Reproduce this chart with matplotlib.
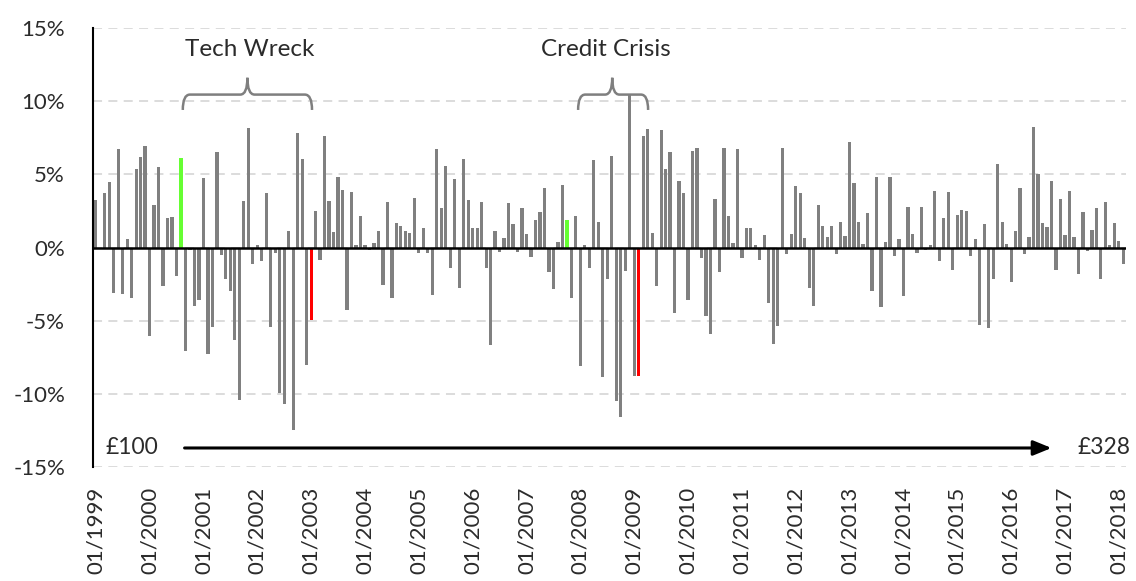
import matplotlib
matplotlib.use("Agg")
import matplotlib.pyplot as plt
import numpy as np
import pandas as pd
from matplotlib.path import Path
from matplotlib.patches import PathPatch

# monthly returns in %, starting 01/1999
monthly_returns = [
    3.24, -0.1, 3.7, 4.5, -3.1, 6.75, -3.15, 0.57, -3.45, 5.37, 6.16, 6.96,
    -6.03, 2.92, 5.5, -2.65, 1.99, 2.08, -1.96, 6.1, -7.05, -0.2, -3.97, -3.6,
    4.77, -7.26, -5.43, 6.55, -0.5, -2.15, -2.97, -6.3, -10.4, 3.15, 8.2, -1.1,
    0.14, -0.9, 3.74, -5.46, -0.37, -9.95, -10.7, 1.16, -12.5, 7.85, 6.03, -8.0,
    -4.98, 2.47, -0.82, 7.63, 3.15, 1.07, 4.82, 3.95, -4.27, 3.8, 0.16, 2.12,
    0.16, -0.14, 0.34, 1.16, -2.56, 3.08, -3.45, 1.67, 1.46, 1.16, 1.0, 3.38,
    -0.37, 1.32, -0.37, -3.22, 6.76, 2.72, 5.57, -1.39, 4.7, -2.79, 6.03, 3.22,
    1.32, 1.32, 3.08, -1.39, -6.69, 1.1, -0.3, 0.64, 3.01, 1.6, -0.3, 2.72,
    0.94, -0.66, 1.9, 2.42, 4.1, -1.69, -2.81, 0.41, 4.3, 1.9, -3.45, 2.12,
    -8.08, 0.2, -1.39, 5.96, 1.76, -8.86, -2.12, 6.26, -10.5, -11.6, -1.62, 10.5,
    -8.8, -8.8, 7.63, 8.13, 1.0, -2.65, 8.06, 5.34, 6.53, -4.47, 4.54, 3.72,
    -3.6, 6.6, 6.83, -0.73, -4.7, -5.9, 3.3, -1.69, 6.83, 2.12, 0.34, 6.76,
    -0.73, 1.32, 1.32, 0.16, -0.87, 0.87, -3.81, -6.62, -5.37, 6.83, -0.43, 0.94,
    4.18, 3.74, 0.64, -2.79, -3.97, 2.92, 1.46, 0.73, 1.46, -0.43, 1.76, 0.8,
    7.21, 4.38, 1.76, 0.27, 2.33, -3.0, 4.84, -4.06, 0.41, 4.84, -0.59, 0.57,
    -3.31, 2.79, 0.94, -0.37, 2.79, -0.14, 0.16, 3.88, -0.89, 2.05, 3.81, -1.55,
    2.19, 2.56, 2.49, -0.57, 0.57, -5.3, 1.6, -5.53, -2.15, 5.73, 1.76, 0.27,
    -2.35, 1.1, 4.1, -0.43, 0.73, 8.22, 5.0, 1.67, 1.39, 4.54, -1.55, 3.31,
    0.87, 3.88, 0.73, -1.83, 2.42, -0.23, 1.23, 2.72, -2.12, 3.08, 0.18, 1.67,
    0.43, -1.16,
]
months = pd.date_range("1999-01-01", periods=len(monthly_returns), freq="MS")
peak_months = ["2000-08", "2007-10"]
trough_months = ["2003-01", "2009-02"]
episodes = ["Tech Wreck", "Credit Crisis"]
start_value = "£100"
end_value = "£328"

plt.rcParams['font.family'] = ['Lato', 'DejaVu Sans']
text_col = '#2b2b2b'

fig = plt.figure(figsize=(11.36, 5.81), dpi=100)
ax = fig.add_axes([0.0823, 0.1962, 0.9085, 0.7556])

x = np.arange(len(monthly_returns))
month_keys = list(months.strftime("%Y-%m"))
colors = []
for k in month_keys:
    if k in peak_months:
        colors.append('#66ff33')
    elif k in trough_months:
        colors.append('#ff0000')
    else:
        colors.append('#808080')

ax.bar(x, monthly_returns, 0.72, color=colors, zorder=2)
ax.axhline(0, color='black', lw=1.8, zorder=3)

ax.set_xlim(-0.5, len(x) - 0.5)
ax.set_ylim(-15, 15)
ax.set_yticks(np.arange(-15, 16, 5))
ax.set_yticklabels([f"{v}%" for v in range(-15, 16, 5)])
ax.yaxis.grid(True, color='#d9d9d9', linestyle=(0, (5, 3.5)), lw=1.3, zorder=0)
ax.set_axisbelow(True)

jan_idx = [i for i, m in enumerate(months) if m.month == 1]
ax.set_xticks(jan_idx)
ax.set_xticklabels([months[i].strftime("%m/%Y") for i in jan_idx], rotation=90)
ax.tick_params(axis='both', length=0, labelsize=16, colors=text_col)
ax.tick_params(axis='y', pad=20.5)
ax.tick_params(axis='x', pad=14)

for s in ['top', 'right', 'bottom']:
    ax.spines[s].set_visible(False)
ax.spines['left'].set_linewidth(1.5)
ax.spines['left'].set_color('black')


def brace(x0, x1, y_end, y_line, y_tip, xm, dx=1.6):
    verts = [(x0, y_end), (x0, y_line), (x0 + dx, y_line),
             (xm - dx, y_line), (xm, y_line), (xm, y_tip),
             (xm, y_line), (xm + dx, y_line),
             (x1 - dx, y_line), (x1, y_line), (x1, y_end)]
    codes = [Path.MOVETO, Path.CURVE3, Path.CURVE3,
             Path.LINETO, Path.CURVE3, Path.CURVE3,
             Path.CURVE3, Path.CURVE3,
             Path.LINETO, Path.CURVE3, Path.CURVE3]
    ax.add_patch(PathPatch(Path(verts, codes), fill=False, edgecolor='#7f7f7f',
                           lw=1.8, zorder=4, clip_on=False))


brace_pos = [(19.4, 48.2, 33.8), (107.5, 123.1, 115.1)]
label_x = [34.2, 113.7]
for label, (b0, b1, bm), lx in zip(episodes, brace_pos, label_x):
    brace(b0, b1, 9.4, 10.45, 11.6, bm)
    ax.text(lx, 13.5, label, ha='center', va='center',
            fontsize=17.5, color=text_col)

ax.annotate("", xy=(213, -13.7), xytext=(19.8, -13.7),
            arrowprops=dict(arrowstyle='-|>,head_length=1.1,head_width=0.45',
                            color='black', lw=2.2, shrinkA=0, shrinkB=0))
ax.text(2.1, -13.7, start_value, ha='left', va='center', fontsize=16.5, color=text_col)
ax.text(218.7, -13.7, end_value, ha='left', va='center', fontsize=16.5, color=text_col)

fig.savefig("out.png", dpi=100)
